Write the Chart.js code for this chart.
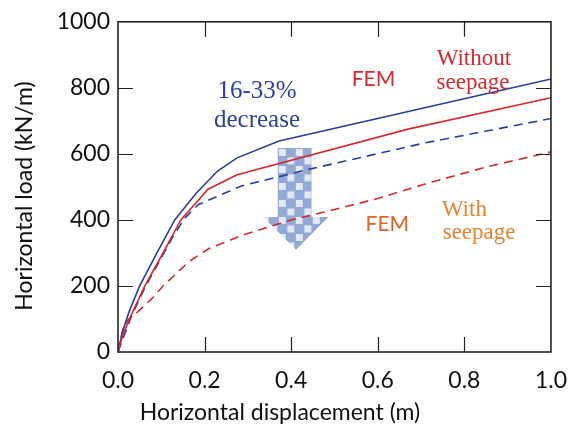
<!DOCTYPE html>
<html>
<head>
<meta charset="utf-8">
<script src="https://cdn.jsdelivr.net/npm/chart.js@4.4.0/dist/chart.umd.min.js"></script>
<style>
  html, body { margin: 0; padding: 0; background: #fff; }
  #wrap { width: 582px; height: 438px; }
</style>
</head>
<body>
<div id="wrap"><canvas id="myChart" width="582" height="438"></canvas></div>
<script>
'use strict';

// horizontal displacement (m) and horizontal load (kN/m)
let blueSolidX = [0, 0.01, 0.025, 0.05, 0.09, 0.131, 0.18, 0.23, 0.275, 0.372, 0.83, 1.0];
let blueSolidY = [0, 60, 120, 200, 300, 400, 480, 548, 588, 639, 776, 827];

let redSolidX = [0, 0.012, 0.03, 0.062, 0.1, 0.145, 0.208, 0.275, 0.67, 1.0];
let redSolidY = [0, 55, 110, 200, 290, 400, 493, 537, 675, 770];

let blueDashX = [0, 0.03, 0.062, 0.1, 0.125, 0.154, 0.185, 0.285, 0.44, 0.708, 1.0];
let blueDashY = [0, 105, 195, 285, 345, 405, 446, 503, 553, 633, 707];

let redDashX = [0, 0.012, 0.025, 0.04, 0.08, 0.104, 0.165, 0.211, 0.29, 0.4, 0.49, 0.6, 0.72, 0.85, 1.0];
let redDashY = [0, 75, 100, 115, 164, 200, 275, 314, 355, 400, 428, 465, 513, 560, 606];

let xTickValues = [0, 0.2, 0.4, 0.6, 0.8, 1.0];
let yTickValues = [0, 200, 400, 600, 800, 1000];

let xTitle = 'Horizontal displacement (m)';
let yTitle = 'Horizontal load (kN/m)';

// text notes placed in data units
let notes = [
  { text: '16-33%', x: 0.321, y: 790, color: '#2e3f9e', font: '25px "Liberation Serif"' },
  { text: 'decrease', x: 0.321, y: 700, color: '#2e3f9e', font: '25px "Liberation Serif"' },
  { text: 'FEM', x: 0.59, y: 827, color: '#d42a2f', font: '21px Lato' },
  { text: 'Without', x: 0.822, y: 887, color: '#d42a2f', font: '23px "Liberation Serif"' },
  { text: 'seepage', x: 0.82, y: 815, color: '#d42a2f', font: '23px "Liberation Serif"' },
  { text: 'FEM', x: 0.622, y: 388, color: '#e0632b', font: '21px Lato' },
  { text: 'With', x: 0.8, y: 430, color: '#e5842f', font: '23px "Liberation Serif"' },
  { text: 'seepage', x: 0.834, y: 362, color: '#e5842f', font: '23px "Liberation Serif"' }
];

// the checkered down arrow, in data units
let arrowShape = [
  [0.369, 618], [0.447, 618], [0.447, 409], [0.486, 409],
  [0.411, 310], [0.335, 409], [0.369, 409]
];

function toPoints(xs, ys) {
  let pts = [];
  for (let i = 0; i < xs.length; i++) {
    pts.push({ x: xs[i], y: ys[i] });
  }
  return pts;
}

function checkerPattern(ctx) {
  let c = document.createElement('canvas');
  c.width = 17;
  c.height = 17;
  let g = c.getContext('2d');
  g.fillStyle = '#86a0d0';
  g.fillRect(0, 0, 17, 17);
  g.fillStyle = '#dfe6f3';
  g.fillRect(1, 1, 7, 7);
  g.fillRect(9.5, 9.5, 7, 7);
  return ctx.createPattern(c, 'repeat');
}

let figurePlugin = {
  id: 'figure',
  beforeDatasetsDraw(chart) {
    let ctx = chart.ctx;
    let xs = chart.scales.x;
    let ys = chart.scales.y;
    ctx.save();
    ctx.beginPath();
    for (let i = 0; i < arrowShape.length; i++) {
      let px = xs.getPixelForValue(arrowShape[i][0]);
      let py = ys.getPixelForValue(arrowShape[i][1]);
      if (i === 0) ctx.moveTo(px, py); else ctx.lineTo(px, py);
    }
    ctx.closePath();
    ctx.translate(xs.getPixelForValue(arrowShape[0][0]), ys.getPixelForValue(arrowShape[0][1]));
    ctx.fillStyle = checkerPattern(ctx);
    ctx.globalAlpha = 0.9;
    ctx.fill();
    ctx.restore();
  },
  afterDatasetsDraw(chart) {
    let ctx = chart.ctx;
    let a = chart.chartArea;
    let xs = chart.scales.x;
    let ys = chart.scales.y;
    ctx.save();
    ctx.strokeStyle = '#222';
    ctx.lineWidth = 1.6;
    ctx.strokeRect(a.left, a.top, a.right - a.left, a.bottom - a.top);
    ctx.lineWidth = 1.2;
    ctx.beginPath();
    let tl = 15;
    for (let i = 1; i < xTickValues.length - 1; i++) {
      let px = Math.round(xs.getPixelForValue(xTickValues[i])) + 0.5;
      ctx.moveTo(px, a.bottom); ctx.lineTo(px, a.bottom - tl);
      ctx.moveTo(px, a.top); ctx.lineTo(px, a.top + tl);
    }
    for (let i = 1; i < yTickValues.length - 1; i++) {
      let py = Math.round(ys.getPixelForValue(yTickValues[i])) + 0.5;
      ctx.moveTo(a.left, py); ctx.lineTo(a.left + tl, py);
      ctx.moveTo(a.right, py); ctx.lineTo(a.right - tl, py);
    }
    ctx.stroke();

    ctx.textAlign = 'center';
    ctx.textBaseline = 'middle';
    for (let i = 0; i < notes.length; i++) {
      ctx.font = notes[i].font;
      ctx.fillStyle = notes[i].color;
      ctx.fillText(notes[i].text, xs.getPixelForValue(notes[i].x), ys.getPixelForValue(notes[i].y));
    }

    // axis titles, placed like the original (a little off the plot centre)
    ctx.font = '23px Lato';
    ctx.fillStyle = '#111';
    ctx.fillText(xTitle, 280, 413);
    ctx.translate(25, 196);
    ctx.rotate(-Math.PI / 2);
    ctx.fillText(yTitle, 0, 0);
    ctx.restore();
  }
};

let ctx = document.getElementById('myChart').getContext('2d');
let myChart = new Chart(ctx, {
  type: 'line',
  data: {
    datasets: [{
      label: 'FEM without seepage',
      data: toPoints(redSolidX, redSolidY),
      borderColor: '#d42a2f',
      borderWidth: 1.6
    }, {
      label: 'Without seepage',
      data: toPoints(blueSolidX, blueSolidY),
      borderColor: '#2c3e9c',
      borderWidth: 1.6
    }, {
      label: 'FEM with seepage',
      data: toPoints(redDashX, redDashY),
      borderColor: '#d42a2f',
      borderWidth: 1.6,
      borderDash: [9, 6]
    }, {
      label: 'With seepage',
      data: toPoints(blueDashX, blueDashY),
      borderColor: '#2c3e9c',
      borderWidth: 1.6,
      borderDash: [9, 6]
    }]
  },
  options: {
    responsive: false,
    animation: false,
    devicePixelRatio: 1,
    layout: { padding: { top: 17, right: 28, left: 0, bottom: 0 } },
    elements: { point: { radius: 0 }, line: { tension: 0, fill: false } },
    plugins: { legend: { display: false }, tooltip: { enabled: false } },
    scales: {
      x: {
        type: 'linear',
        min: 0,
        max: 1,
        afterFit(scale) { scale.height = 86; },
        grid: { display: false, drawTicks: false },
        border: { display: false },
        ticks: {
          stepSize: 0.2,
          padding: 15,
          color: '#111',
          font: { family: 'Lato', size: 23 },
          callback: function (v) { return v.toFixed(1); }
        }
      },
      y: {
        type: 'linear',
        min: 0,
        max: 1000,
        afterFit(scale) { scale.width = 118; },
        grid: { display: false, drawTicks: false },
        border: { display: false },
        ticks: {
          stepSize: 200,
          padding: 8,
          color: '#111',
          font: { family: 'Lato', size: 23 },
          callback: function (v) { return String(v); }
        }
      }
    }
  },
  plugins: [figurePlugin]
});
</script>
</body>
</html>
